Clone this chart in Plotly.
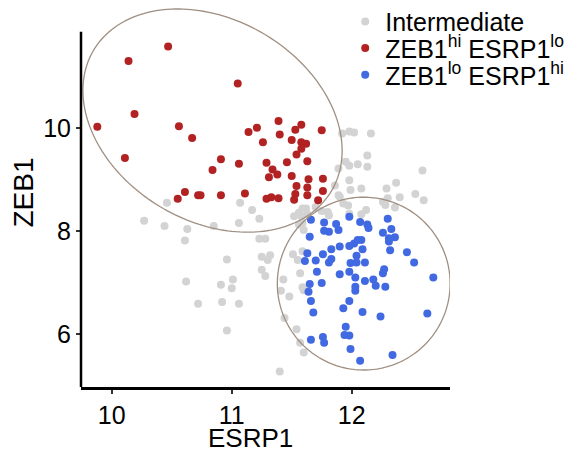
import numpy as np
import plotly.graph_objects as go

# ---------------- data ----------------
gray_x = [10.46, 10.27, 10.44, 10.63, 10.61, 10.85, 11.07, 11.17, 11.23, 11.06,
          11.23, 11.28, 10.96, 11.25, 11.32, 11.30, 11.25, 11.28, 10.62, 10.91,
          11.01, 11.00, 10.72, 10.92, 11.06, 10.96, 11.43, 11.41, 11.48, 11.44,
          11.54, 11.57, 11.60, 11.40, 11.52, 11.59, 11.62, 11.58, 11.63, 11.56,
          11.60, 11.56, 11.59, 11.51, 11.55, 11.59, 11.57, 11.59, 11.60, 11.92,
          11.98, 12.02, 12.16, 12.13, 12.13, 12.05, 11.95, 11.98, 11.89, 12.59,
          11.98, 12.37, 12.29, 12.08, 11.99, 11.86, 11.90, 12.40, 12.53, 12.60,
          12.26, 12.30, 12.36, 11.97, 12.12, 12.08, 11.70, 11.80, 11.81, 11.75,
          11.93, 11.89, 11.98, 12.28]
gray_y = [8.55, 8.20, 8.10, 8.04, 7.82, 8.10, 8.55, 8.41, 8.24, 8.16,
          7.85, 7.85, 7.45, 7.50, 7.53, 7.44, 7.25, 7.13, 7.02, 6.96,
          7.06, 6.89, 6.59, 6.62, 6.59, 6.07, 7.06, 6.84, 6.73, 6.31,
          6.09, 5.83, 5.64, 5.27, 8.29, 8.44, 8.44, 8.29, 8.33, 8.36,
          8.02, 8.13, 8.16, 7.55, 7.44, 7.61, 7.18, 6.91, 6.85, 9.90,
          9.94, 9.92, 9.90, 9.47, 9.25, 9.30, 9.35, 9.27, 9.22, 9.18,
          8.99, 8.94, 8.83, 8.83, 8.80, 8.89, 8.67, 8.66, 8.72, 8.60,
          8.57, 8.64, 8.46, 8.50, 8.41, 8.33, 8.47, 8.37, 8.31, 8.39,
          8.54, 8.70, 8.34, 8.51]

red_x = [10.47, 10.14, 11.05, 10.19, 9.88, 10.56, 10.67, 10.11, 11.39, 11.21,
         11.14, 11.58, 11.53, 11.75, 11.40, 11.26, 11.50, 11.58, 11.62, 11.58,
         11.54, 10.91, 11.06, 10.84, 11.29, 11.46, 11.63, 11.34, 11.38, 11.31,
         11.50, 11.64, 11.76, 11.54, 11.63, 11.76, 10.61, 10.55, 10.72, 10.74,
         10.91, 11.11, 11.29, 11.33, 11.39, 11.53, 11.52, 11.63, 11.72]
red_y = [11.59, 11.31, 10.87, 10.28, 10.03, 10.04, 9.81, 9.42, 10.14, 10.01,
         9.93, 10.07, 9.97, 9.96, 9.88, 9.73, 9.77, 9.73, 9.70, 9.60,
         9.49, 9.40, 9.31, 9.19, 9.33, 9.34, 9.36, 9.20, 9.10, 9.05,
         9.07, 9.01, 9.02, 8.88, 8.85, 8.78, 8.76, 8.63, 8.70, 8.70,
         8.70, 8.73, 8.63, 8.66, 8.64, 8.72, 8.61, 8.70, 8.60]

blue_x = [11.66, 11.77, 11.87, 11.89, 11.77, 11.81, 11.98, 12.07, 12.13, 12.14,
          12.30, 12.33, 12.26, 12.31, 12.36, 12.31, 12.32, 12.46, 12.52, 12.68,
          11.65, 11.63, 11.61, 11.70, 11.76, 11.83, 11.90, 11.81, 11.83, 11.98,
          12.02, 12.05, 12.08, 12.09, 12.04, 11.99, 12.04, 12.11, 11.71, 11.90,
          11.98, 12.03, 12.11, 12.18, 12.20, 12.26, 12.27, 12.28, 11.65, 11.75,
          11.64, 11.66, 11.68, 11.93, 11.98, 12.03, 12.03, 12.09, 12.24, 12.63,
          11.95, 11.94, 11.98, 11.66, 11.76, 11.77, 11.99, 12.07, 12.34]
blue_y = [8.22, 8.17, 8.14, 8.02, 8.01, 7.99, 8.28, 8.18, 8.13, 8.06,
          8.24, 8.04, 7.97, 7.86, 7.88, 7.80, 7.63, 7.59, 7.39, 7.10,
          7.89, 7.57, 7.42, 7.43, 7.55, 7.65, 7.70, 7.39, 7.46, 7.71,
          7.76, 7.83, 7.83, 7.65, 7.52, 7.38, 7.39, 7.39, 7.21, 7.16,
          7.21, 7.10, 7.03, 7.06, 6.94, 7.18, 7.26, 6.92, 6.97, 6.99,
          6.82, 6.64, 6.42, 6.50, 6.64, 6.92, 6.84, 6.43, 6.34, 6.40,
          6.14, 5.98, 5.97, 5.89, 5.94, 5.83, 5.71, 5.48, 5.59]

group_names = ["Intermediate", "ZEB1<sup>hi</sup> ESRP1<sup>lo</sup>",
               "ZEB1<sup>lo</sup> ESRP1<sup>hi</sup>"]
group_colors = ["#d3d3d3", "#b22222", "#4169e1"]

x_ticks = [10, 11, 12]
y_ticks = [6, 8, 10]
x_title = "ESRP1"
y_title = "ZEB1"

# annotation ellipses: centre, half-extents in x and y, correlation
ellipses = [
    dict(cx=10.84, cy=10.15, hx=1.08, hy=2.17, rho=-0.27),
    dict(cx=12.10, cy=6.98, hx=0.72, hy=1.68, rho=0.0),
]

X_RANGE = [9.744, 12.819]
Y_RANGE = [4.9695, 12.339]
Y_AXIS_TOP = 11.878

FONT = "Liberation Sans, Arial, Helvetica, sans-serif"

fig = go.Figure()
series = [(gray_x, gray_y), (red_x, red_y), (blue_x, blue_y)]
legend_ids = ["legend", "legend2", "legend3"]
for (xs, ys), name, col, lid in zip(series, group_names, group_colors, legend_ids):
    fig.add_trace(go.Scatter(
        x=xs, y=ys, mode="markers", name=name, legend=lid,
        marker=dict(color=col, size=8, line=dict(width=0)),
        hoverinfo="skip",
    ))

shapes = []
t = np.linspace(0, 2 * np.pi, 200)
for e in ellipses:
    ex = e["cx"] + e["hx"] * np.cos(t)
    ey = e["cy"] + e["hy"] * (e["rho"] * np.cos(t) + np.sqrt(1 - e["rho"] ** 2) * np.sin(t))
    path = "M " + " L ".join(f"{a:.4f},{b:.4f}" for a, b in zip(ex, ey)) + " Z"
    shapes.append(dict(type="path", path=path, xref="x", yref="y",
                       line=dict(color="#a08f80", width=1.3), layer="above"))

# y axis line (stops at the panel top, the ellipse may overflow)
shapes.append(dict(type="line", xref="paper", yref="y", x0=0, x1=0,
                   y0=Y_RANGE[0], y1=Y_AXIS_TOP,
                   line=dict(color="black", width=2.5)))

legend_common = dict(xanchor="left", yanchor="middle", bgcolor="rgba(0,0,0,0)",
                     font=dict(family=FONT, size=25, color="black"),
                     itemsizing="trace", borderwidth=0)
legend_ys = [0.964, 0.894, 0.823]

layout_legends = {}
for lid, ly in zip(legend_ids, legend_ys):
    layout_legends[lid] = dict(legend_common, x=0.716, y=ly)

fig.update_layout(
    width=567, height=445,
    margin=dict(l=73, r=125, t=0, b=66, autoexpand=False),
    paper_bgcolor="white", plot_bgcolor="white",
    font=dict(family=FONT, color="black"),
    showlegend=True,
    shapes=shapes,
    xaxis=dict(range=X_RANGE, tickvals=x_ticks, ticks="outside", ticklen=4,
               tickwidth=1.5, tickcolor="#333", showline=True, linecolor="black",
               linewidth=2.5, showgrid=False, zeroline=False, automargin=False,
               tickfont=dict(size=25, family=FONT, color="black")),
    yaxis=dict(range=Y_RANGE, tickvals=y_ticks, ticks="outside", ticklen=4,
               tickwidth=1.5, tickcolor="#333", showline=False, automargin=False,
               showgrid=False, zeroline=False,
               tickfont=dict(size=25, family=FONT, color="black")),
    annotations=[
        dict(text=x_title, xref="paper", yref="paper", x=0.458, y=-0.1346,
             xanchor="center", yanchor="middle", showarrow=False,
             font=dict(size=26, family=FONT, color="black")),
        dict(text=y_title, xref="paper", yref="paper", x=-0.1545, y=0.513,
             xanchor="center", yanchor="middle", showarrow=False, textangle=-90,
             font=dict(size=28, family=FONT, color="black")),
    ],
    **layout_legends,
)

fig.write_html("out.html")
